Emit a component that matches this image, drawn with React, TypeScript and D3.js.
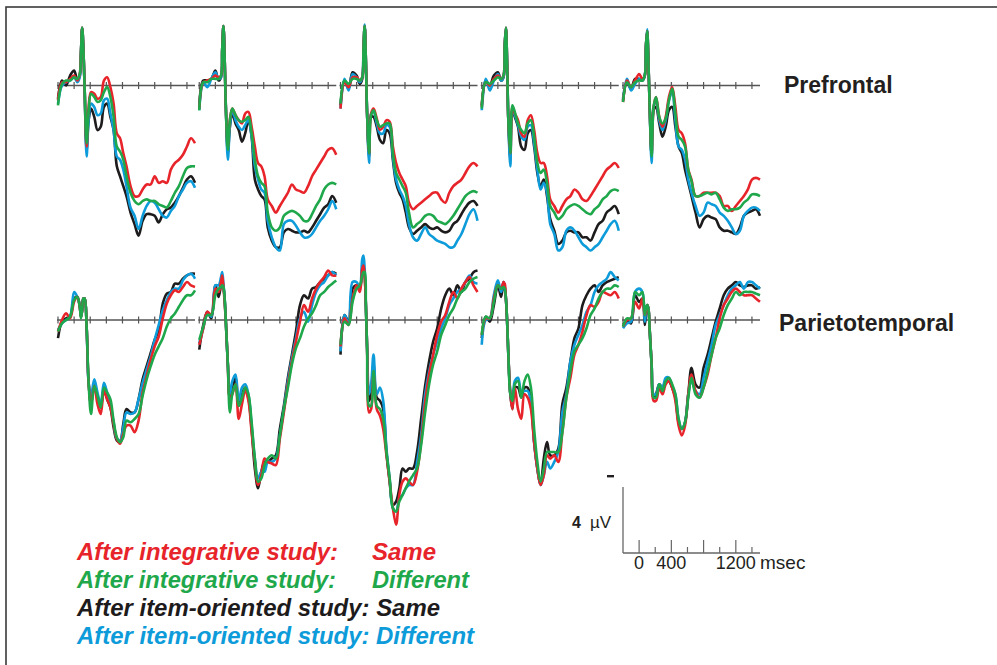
import React from 'react';
import * as d3 from 'd3';

// Time grid (ms) shared by every waveform
const TIMES = [-200,-150,-100,-50,0,40,70,85,100,115,130,155,180,210,250,290,330,370,410,450,490,530,570,610,650,700,750,800,850,900,950,1000,1050,1100,1150,1200,1250,1300,1350,1400,1450,1500];

// Values in microvolts, negative plotted up. One row per column (5 columns).
const PF_INT_SAME = [
  [.9,-.2,-.2,-.4,-.6,-.3,-.7,-2.0,-3.5,-2.2,.1,3.7,1.3,.4,.5,.8,.7,-.3,-.5,.1,1.1,2.9,3.2,4.1,4.9,6.1,6.7,6.7,6.3,6.0,6.0,5.5,5.9,5.8,5.9,5.1,4.7,4.5,4.2,3.7,3.2,3.5],
  [1.4,-.2,-.3,-.4,-.6,-.5,-.6,-2.2,-3.6,-1.7,1.3,3.7,2.1,1.4,1.8,2.1,2.3,1.7,1.6,2.5,3.7,4.7,4.9,5.5,6.9,7.3,7.7,7.3,6.9,6.5,6.0,6.3,6.4,6.5,6.1,5.5,5.1,4.7,4.3,3.9,3.8,4.2],
  [1.4,-.2,.1,-.5,-.5,-.3,-.5,-2.2,-3.6,-1.5,1.7,4.1,1.7,1.4,2.0,2.7,2.5,2.1,2.2,3.7,4.7,5.3,5.7,6.1,7.1,7.5,7.3,7.1,6.9,6.7,6.5,6.5,6.9,7.1,6.5,6.1,5.9,5.7,5.3,4.9,4.7,4.9],
  [1.3,-.2,0,-.4,-.6,-.4,-.6,-2.4,-3.5,-1.3,2.1,4.1,1.3,1.7,2.1,2.9,3.1,2.1,1.8,2.7,4.1,4.7,4.7,5.5,6.9,7.3,7.7,7.3,6.9,6.7,6.3,6.5,6.9,7.0,6.7,6.3,5.9,5.5,5.1,4.9,4.7,5.0],
  [1.0,-.3,.1,-.3,-.7,-.4,-.6,-2.4,-3.3,-1.5,1.1,4.1,1.3,.7,1.9,2.5,1.9,.7,.1,1.3,2.7,2.9,3.5,5.1,5.7,6.7,6.7,6.5,6.5,6.5,6.5,6.7,7.3,7.3,7.6,7.3,7.0,6.7,6.3,5.7,5.6,5.7],
];
const PF_INT_DIFF = [
  [1.2,-.1,-.3,-.3,-.5,-.4,-.7,-2.0,-3.5,-2.2,.1,3.5,1.5,.5,.7,1.0,.9,.4,.1,.7,1.9,3.7,4.0,4.5,5.5,6.5,7.0,7.2,7.0,6.9,7.0,7.0,7.2,7.3,7.4,7.0,6.5,6.1,5.5,5.0,4.9,4.9],
  [1.5,-.2,-.2,-.4,-.4,-.4,-.6,-2.2,-3.6,-1.7,1.3,3.9,2.1,1.4,1.8,2.1,2.2,2.1,1.9,2.9,4.5,5.5,5.9,6.1,7.7,8.6,8.8,8.6,7.9,7.7,7.6,7.7,7.9,8.2,8.2,7.8,7.3,6.9,6.3,6.0,5.9,6.0],
  [1.1,-.3,-.1,-.4,-.4,-.3,-.5,-2.2,-3.6,-1.5,1.7,4.1,1.8,1.5,2.1,2.5,2.4,2.3,2.3,4.1,5.3,5.7,6.1,6.5,7.7,8.6,8.4,8.2,7.9,7.8,7.9,8.2,8.3,8.4,8.2,7.9,7.5,7.1,6.7,6.5,6.4,6.5],
  [1.4,-.2,-.1,-.3,-.5,-.4,-.6,-2.4,-3.5,-1.3,2.1,4.1,1.2,1.6,2.3,2.7,2.9,2.3,2.1,3.1,4.7,5.3,5.1,5.9,7.3,7.7,8.1,7.9,7.5,7.3,7.2,7.3,7.5,7.7,7.8,7.5,7.3,6.9,6.7,6.4,6.3,6.4],
  [1.0,-.2,.1,-.2,-.3,-.3,-.6,-2.4,-3.3,-1.5,1.1,4.3,1.3,.7,1.9,2.3,2.0,.9,.2,1.7,3.1,3.3,3.7,5.1,5.8,6.7,6.7,6.6,6.5,6.6,6.5,6.9,7.4,7.6,7.5,7.5,7.4,7.1,6.9,6.6,6.6,6.7],
];
const PF_ITEM_SAME = [
  [.8,-.3,0,-.6,-.9,-.3,-.6,-2.0,-3.5,-2.2,.1,3.9,2.1,1.4,1.9,2.7,2.5,1.3,1.1,1.9,2.7,4.9,5.5,6.1,6.7,7.7,8.4,9.1,8.2,7.8,7.8,7.9,8.3,7.8,7.5,7.4,7.1,6.7,6.2,5.7,5.5,5.9],
  [1.3,-.3,-.3,-.4,-.9,-.3,-.5,-2.2,-3.6,-1.7,1.3,4.1,2.5,1.7,2.3,2.7,3.4,2.9,2.1,3.1,5.7,6.3,6.7,6.9,8.6,9.4,9.8,9.8,8.9,8.7,8.8,8.9,8.9,8.8,8.9,8.6,8.2,7.8,7.4,7.2,6.7,7.1],
  [1.2,-.3,.2,-.8,-.6,-.1,-.4,-2.2,-3.6,-1.5,1.7,4.3,1.9,1.9,2.5,3.3,3.5,2.7,2.9,4.5,5.9,6.5,6.9,7.7,8.6,9.0,8.8,8.6,8.4,8.6,8.7,8.6,8.8,8.9,8.8,8.4,8.2,7.8,7.4,7.1,7.0,7.3],
  [1.2,-.3,0,-.6,-.8,-.3,-.5,-2.4,-3.5,-1.3,2.1,4.5,1.5,1.9,2.5,3.7,3.9,2.9,2.7,3.7,5.3,6.1,5.7,6.7,8.1,8.8,9.6,9.4,8.9,8.8,8.9,8.9,9.2,9.2,9.4,8.9,8.4,8.2,7.7,7.5,7.3,7.8],
  [.9,-.2,.2,-.4,-.4,-.3,-.6,-2.4,-3.3,-1.5,1.1,4.3,1.5,1.3,2.3,3.1,2.5,1.5,1.3,2.5,3.7,4.1,5.1,5.9,6.7,7.7,8.6,8.1,7.9,8.0,8.1,8.6,8.8,8.8,8.9,9.0,8.6,7.9,7.7,7.6,7.5,7.9],
];
const PF_ITEM_DIFF = [
  [1.1,0,-.2,-.3,-.5,-.2,-.5,-2.0,-3.5,-2.2,.1,4.3,2.1,1.1,1.3,1.8,1.7,.9,.8,1.7,2.7,4.3,4.5,5.1,6.1,7.4,7.9,8.7,7.9,7.3,7.0,7.1,7.5,7.9,8.0,7.6,7.3,6.7,6.3,5.9,5.8,6.2],
  [1.5,-.2,.1,-.4,-.8,-.4,-.5,-2.2,-3.6,-1.7,1.3,4.5,2.5,1.5,2.1,2.5,2.7,2.4,2.1,3.1,4.9,5.7,6.3,6.5,8.2,9.2,9.8,10.0,8.4,8.2,8.2,8.5,8.9,9.2,9.2,9.0,8.6,8.2,7.9,7.5,7.0,7.5],
  [1.4,-.4,.3,-.7,-.5,-.2,-.5,-2.2,-3.7,-1.5,1.7,4.7,1.7,1.6,2.3,2.9,2.9,2.4,2.5,4.3,5.7,6.3,6.7,7.3,8.4,9.2,9.4,9.0,8.6,9.0,9.2,9.4,9.5,9.6,9.8,9.8,9.4,9.0,8.4,7.8,7.5,8.2],
  [1.5,-.4,.3,-.3,-.7,-.3,-.5,-2.4,-3.5,-1.3,2.1,4.9,1.5,1.8,2.4,3.1,3.3,2.5,2.4,3.5,5.1,6.3,5.9,6.5,8.4,9.0,10.0,9.8,8.8,8.6,8.8,9.2,9.6,9.8,10.0,9.8,9.6,9.2,8.8,8.4,8.2,8.8],
  [.8,-.4,.3,-.1,-.4,-.3,-.6,-2.4,-3.4,-1.5,1.1,4.7,1.3,.9,2.1,2.7,2.1,.9,.4,2.1,3.7,3.9,4.5,5.7,6.5,7.3,7.9,7.7,7.1,7.2,7.3,7.7,7.9,8.2,8.6,9.0,8.8,7.9,7.6,7.4,7.4,7.6],
];

const PT_INT_SAME = [
  [.7,0,-.4,-.1,-1.1,-1.4,-.8,-.2,-.6,-1.3,-1.3,.4,3.8,5.1,4.0,5.1,5.7,4.3,4.8,5.3,6.3,7.2,7.5,6.9,6.4,6.4,6.8,6.1,4.4,3.4,2.4,1.6,1.0,-.1,-1.0,-1.5,-1.8,-1.7,-2.0,-2.3,-2.1,-2.0],
  [1.5,.5,-.5,-.3,-1.9,-1.7,-2.3,-2.7,-2.0,-1.1,.1,2.7,4.7,4.5,3.9,6.0,5.1,4.3,4.9,6.8,8.6,10.0,9.4,8.4,8.6,8.7,8.8,7.2,5.6,3.9,2.5,1.3,.1,-.9,-.5,-1.3,-1.9,-2.3,-2.6,-3.0,-2.7,-2.7],
  [1.6,-.1,.3,-1.3,-2.1,-1.7,-3.1,-3.3,-2.7,-.9,1.7,5.6,5.4,3.3,5.4,5.8,6.6,8.2,9.8,11.4,12.4,10.6,9.8,9.6,9.8,10.0,9.2,7.4,5.0,3.3,2.1,.9,.1,-.3,-1.1,-1.7,-1.3,-1.9,-2.3,-2.6,-2.1,-1.7],
  [.9,-.1,-.1,-1.3,-2.1,-1.9,-2.3,-2.2,-1.3,.1,2.1,4.5,5.4,4.1,5.4,6.0,4.5,4.7,5.4,7.4,9.0,10.0,9.4,8.2,8.4,8.2,8.6,6.8,4.7,3.5,2.1,1.5,.7,-.3,-.9,-.8,-1.1,-1.7,-1.6,-1.5,-1.7,-1.3],
  [.4,0,-.1,-1.1,-.7,-1.3,-.3,-.5,-.9,-.7,.5,2.7,4.9,4.9,4.1,4.5,3.9,3.7,4.1,4.9,6.4,7.0,6.4,4.5,3.3,4.3,4.7,4.1,3.3,2.1,1.1,-.1,-.9,-1.3,-1.7,-1.9,-1.7,-1.5,-1.5,-1.5,-1.3,-1.1],
];
const PT_INT_DIFF = [
  [.7,.2,0,-.2,-1.2,-1.4,-.8,-.1,-.6,-1.3,-1.3,.4,3.8,5.7,4.0,4.6,5.3,4.1,4.4,4.8,6.1,7.1,7.4,7.1,6.1,6.2,6.0,5.7,4.6,3.6,2.8,2.1,1.6,1.1,.4,-.1,-.4,-.8,-1.2,-1.5,-1.5,-1.8],
  [1.2,.4,-.3,-.3,-1.5,-1.9,-2.0,-2.1,-2.0,-1.3,.1,2.7,5.6,4.5,3.9,5.2,4.7,4.1,4.5,6.2,8.4,9.8,9.6,8.8,8.4,8.2,8.4,7.0,5.4,4.1,2.7,1.7,1.1,.4,-.1,-.4,-.9,-1.5,-1.7,-2.0,-2.2,-2.4],
  [1.5,.1,.3,-1.1,-1.9,-2.1,-2.7,-2.9,-2.9,-.9,1.7,5.2,5.2,3.1,5.2,5.4,6.0,8.0,9.6,11.4,11.6,11.0,10.6,10.2,9.8,9.4,9.0,7.6,5.6,3.9,2.7,1.9,.9,.3,-.3,-.7,-1.3,-1.7,-1.9,-2.3,-2.5,-2.6],
  [.9,-.2,-.1,-1.1,-2.1,-1.9,-2.0,-1.9,-1.3,.1,2.1,4.5,4.9,3.9,3.7,4.7,3.7,3.3,4.1,6.6,8.6,9.8,9.0,8.0,8.0,8.0,8.0,6.8,4.7,3.1,1.9,1.5,1.1,.5,-.3,-.7,-1.3,-1.7,-1.9,-1.9,-2.1,-2.0],
  [.4,-.1,-.1,-1.7,-1.5,-1.7,-.3,-.7,-.9,-.7,.5,2.7,4.7,4.7,3.9,4.3,3.7,3.5,3.9,4.5,6.0,6.6,6.2,4.7,3.5,4.5,4.7,4.1,3.1,2.1,1.1,.5,-.3,-.9,-1.3,-1.7,-1.5,-1.7,-1.7,-1.7,-1.6,-1.5],
];
const PT_ITEM_SAME = [
  [1.1,.1,-.1,-.2,-1.3,-1.4,-.8,-.2,-.6,-1.3,-1.3,.4,3.8,5.1,3.9,4.6,5.3,4.2,4.8,5.3,6.5,7.3,7.4,6.3,5.4,5.6,5.6,4.8,3.6,2.8,2.0,1.2,.6,-1.0,-1.6,-1.7,-2.2,-2.2,-2.5,-2.7,-2.8,-2.8],
  [1.8,.3,-.5,-.1,-2.1,-1.4,-2.1,-2.3,-2.0,-1.3,.1,2.7,4.7,4.3,3.5,5.2,4.5,4.1,4.7,6.6,9.0,10.2,9.2,8.6,8.6,8.4,8.2,6.6,5.2,3.5,2.1,.7,-.9,-1.5,-1.3,-1.9,-2.0,-2.3,-2.5,-2.7,-2.9,-2.8],
  [2.1,-.3,.1,-1.9,-2.1,-1.9,-3.1,-3.3,-2.7,-.9,1.7,4.9,4.5,2.7,4.7,4.9,5.4,8.0,9.8,11.2,11.0,10.2,9.0,9.2,9.0,9.0,8.0,6.0,4.0,2.5,1.3,.5,-.7,-1.5,-1.9,-1.5,-2.1,-1.7,-2.3,-2.5,-2.9,-3.0],
  [1.1,-.2,.1,-.9,-2.1,-1.4,-2.3,-2.0,-1.3,.1,2.1,4.5,5.4,4.1,4.1,4.7,4.1,4.1,4.9,7.4,9.0,10.0,8.4,7.4,8.2,8.2,7.8,5.1,4.1,2.5,1.1,.5,-.9,-1.5,-1.9,-2.1,-1.7,-2.1,-2.3,-2.4,-2.5,-2.6],
  [.3,.1,.2,-1.5,-1.1,-1.3,.3,-.3,-.9,-.7,.5,2.7,4.7,4.5,3.9,4.1,3.7,3.7,4.1,4.7,6.2,6.6,6.2,4.5,2.9,3.9,4.1,2.9,2.1,1.1,.1,-.7,-1.5,-1.9,-2.1,-2.3,-2.1,-2.0,-2.1,-2.1,-1.9,-2.0],
];
const PT_ITEM_DIFF = [
  [.6,.2,0,-.2,-1.7,-1.4,-.9,-.2,-.6,-1.3,-1.3,.4,3.8,4.6,3.6,4.4,5.1,3.8,4.4,5.1,6.2,7.2,7.3,6.5,5.6,5.7,5.6,4.8,3.8,3.0,2.2,1.2,.3,-.6,-1.2,-1.7,-1.9,-1.9,-2.4,-2.7,-2.8,-2.5],
  [1.4,.5,-.4,-.2,-2.1,-2.1,-2.6,-2.9,-2.2,-1.3,.1,2.7,4.5,3.7,3.3,4.9,4.1,3.9,4.5,6.4,8.4,9.6,9.2,9.2,8.6,8.6,8.4,7.0,5.4,3.7,2.3,1.1,-.1,-.5,.1,-.9,-1.7,-2.1,-2.3,-2.7,-2.9,-2.7],
  [1.9,-.3,.2,-2.3,-2.3,-1.9,-3.7,-3.9,-3.1,-.9,1.7,4.5,3.9,2.1,4.5,4.1,4.9,7.8,9.6,11.4,11.6,10.8,10.6,10.2,10.0,10.0,8.6,7.0,4.5,3.1,2.1,1.3,.5,-.1,-.9,-1.3,-1.7,-1.9,-2.3,-2.7,-2.3,-2.2],
  [1.5,0,-.1,-1.5,-2.4,-1.7,-2.3,-2.0,-1.3,.1,2.1,4.5,5.2,3.7,3.5,4.3,4.3,4.3,4.9,7.4,9.0,10.0,9.4,8.6,9.0,8.6,8.0,5.6,4.5,2.5,1.5,.9,.3,-.5,-.9,-1.7,-2.1,-2.3,-2.5,-2.9,-2.6,-2.4],
  [.5,.2,.1,-1.7,-1.9,-1.7,.1,-.5,-.9,-.7,.5,2.7,4.5,4.5,3.9,4.1,3.5,3.5,4.0,4.5,6.0,6.6,6.2,4.5,3.7,4.3,4.5,3.5,2.5,1.5,.3,-.3,-.9,-1.5,-1.9,-2.1,-2.3,-1.9,-2.3,-2.3,-2.1,-1.9],
];

const AXIS_TICKS = [-200, 0, 200, 400, 600, 800, 1000, 1200, 1400];
const SCALE_TICKS = [0, 200, 400, 600, 800, 1000, 1200, 1400];
const SCALE_MAJOR = [0, 400, 800, 1200];
const SCALE_LABELS = [0, 400, 1200];
const REGIONS = ['Prefrontal', 'Parietotemporal'];

const COLORS = { intSame: '#e8242b', intDiff: '#1fa84b', itemSame: '#1d1b1c', itemDiff: '#0d9bd9' };

const LEGEND = [
  { left: 'After integrative study:', right: 'Same', color: COLORS.intSame, split: true, lw: 261, rw: 64 },
  { left: 'After integrative study:', right: 'Different', color: COLORS.intDiff, split: true, lw: 259, rw: 97 },
  { left: 'After item-oriented study: Same', right: '', color: COLORS.itemSame, split: false, lw: 363, rw: 0 },
  { left: 'After item-oriented study: Different', right: '', color: COLORS.itemDiff, split: false, lw: 397, rw: 0 },
];

const FONT = 'Liberation Sans, Arial, Helvetica, sans-serif';

export default function App() {
  const colX0 = (c: number) => 58 + 141.25 * c;
  const xOf = (c: number) => d3.scaleLinear().domain([-200, 1500]).range([colX0(c), colX0(c) + 137]);
  const baselines = [85.5, 320];
  const yOf = (r: number) => d3.scaleLinear().domain([0, 4]).range([baselines[r], baselines[r] + 66]);

  const rows = [
    [PF_ITEM_SAME, PF_ITEM_DIFF, PF_INT_SAME, PF_INT_DIFF],
    [PT_ITEM_SAME, PT_ITEM_DIFF, PT_INT_SAME, PT_INT_DIFF],
  ];
  const seriesColors = [COLORS.itemSame, COLORS.itemDiff, COLORS.intSame, COLORS.intDiff];

  const panels: JSX.Element[] = [];
  rows.forEach((row, r) => {
    const y = yOf(r);
    for (let c = 0; c < 5; c++) {
      const x = xOf(c);
      const line = d3.line<number>()
        .x((_, i) => x(TIMES[i]))
        .y((v) => y(v))
        .curve(d3.curveCatmullRom.alpha(0.5));
      panels.push(
        <g key={`p${r}-${c}`}>
          <line x1={x(-200) - 1} x2={x(1500)} y1={y(0)} y2={y(0)} stroke="#555" strokeWidth={1.3} />
          {AXIS_TICKS.map((t) => (
            <line key={t} x1={x(t)} x2={x(t)} y1={y(0) - 3.5} y2={y(0) + 3.5} stroke="#555" strokeWidth={1.2} />
          ))}
          {row.map((series, s) => (
            <path key={s} d={line(series[c]) || ''} fill="none" stroke={seriesColors[s]} strokeWidth={2.6} strokeLinejoin="round" />
          ))}
        </g>
      );
    }
  });

  const sx = xOf(4);
  const sy = d3.scaleLinear().domain([0, 4]).range([553, 487]);

  return (
    <svg width={997} height={665} style={{ position: 'absolute', left: 0, top: 0, background: '#fff' }} fontFamily={FONT}>
      <rect x={0} y={0} width={997} height={665} fill="#fff" />
      <rect x={6} y={7} width={1000} height={700} fill="none" stroke="#3a3a3a" strokeWidth={1.6} />
      {panels}
      <text x={784} y={93} fontFamily={FONT} fontSize={23} fontWeight="bold" fill="#231f20">{REGIONS[0]}</text>
      <text x={779} y={331} fontFamily={FONT} fontSize={23} fontWeight="bold" fill="#231f20">{REGIONS[1]}</text>

      {/* scale bar */}
      <line x1={sx(-200)} x2={sx(-200)} y1={sy(0)} y2={sy(4)} stroke="#666" strokeWidth={1.3} />
      <line x1={sx(-200)} x2={sx(1500)} y1={sy(0)} y2={sy(0)} stroke="#666" strokeWidth={1.3} />
      {SCALE_TICKS.map((t) => (
        <line key={t} x1={sx(t)} x2={sx(t)} y1={sy(0)} y2={sy(0) - (SCALE_MAJOR.includes(t) ? 13 : 6)} stroke="#666" strokeWidth={1.2} />
      ))}
      <rect x={607} y={475} width={7} height={2.4} fill="#231f20" />
      <text x={572} y={528} fontFamily={FONT} fontSize={16} fontWeight="bold" fill="#231f20">4</text>
      <text x={590} y={528} fontFamily={FONT} fontSize={17} fill="#231f20">µV</text>
      {SCALE_LABELS.map((t) => (
        <text key={t} x={sx(t)} y={569} fontFamily={FONT} fontSize={18} textAnchor="middle" fill="#231f20">{t}</text>
      ))}
      <text x={760} y={569} fontFamily={FONT} fontSize={19} fill="#231f20">msec</text>

      {/* legend */}
      {LEGEND.map((e, i) => (
        <g key={i} fontFamily={FONT} fontSize={24} fontWeight="bold" fontStyle="italic" fill={e.color}>
          <text x={77} y={560 + i * 28} textLength={e.lw} lengthAdjust="spacingAndGlyphs">{e.left}</text>
          {e.split && <text x={372} y={560 + i * 28} textLength={e.rw} lengthAdjust="spacingAndGlyphs">{e.right}</text>}
        </g>
      ))}
    </svg>
  );
}
